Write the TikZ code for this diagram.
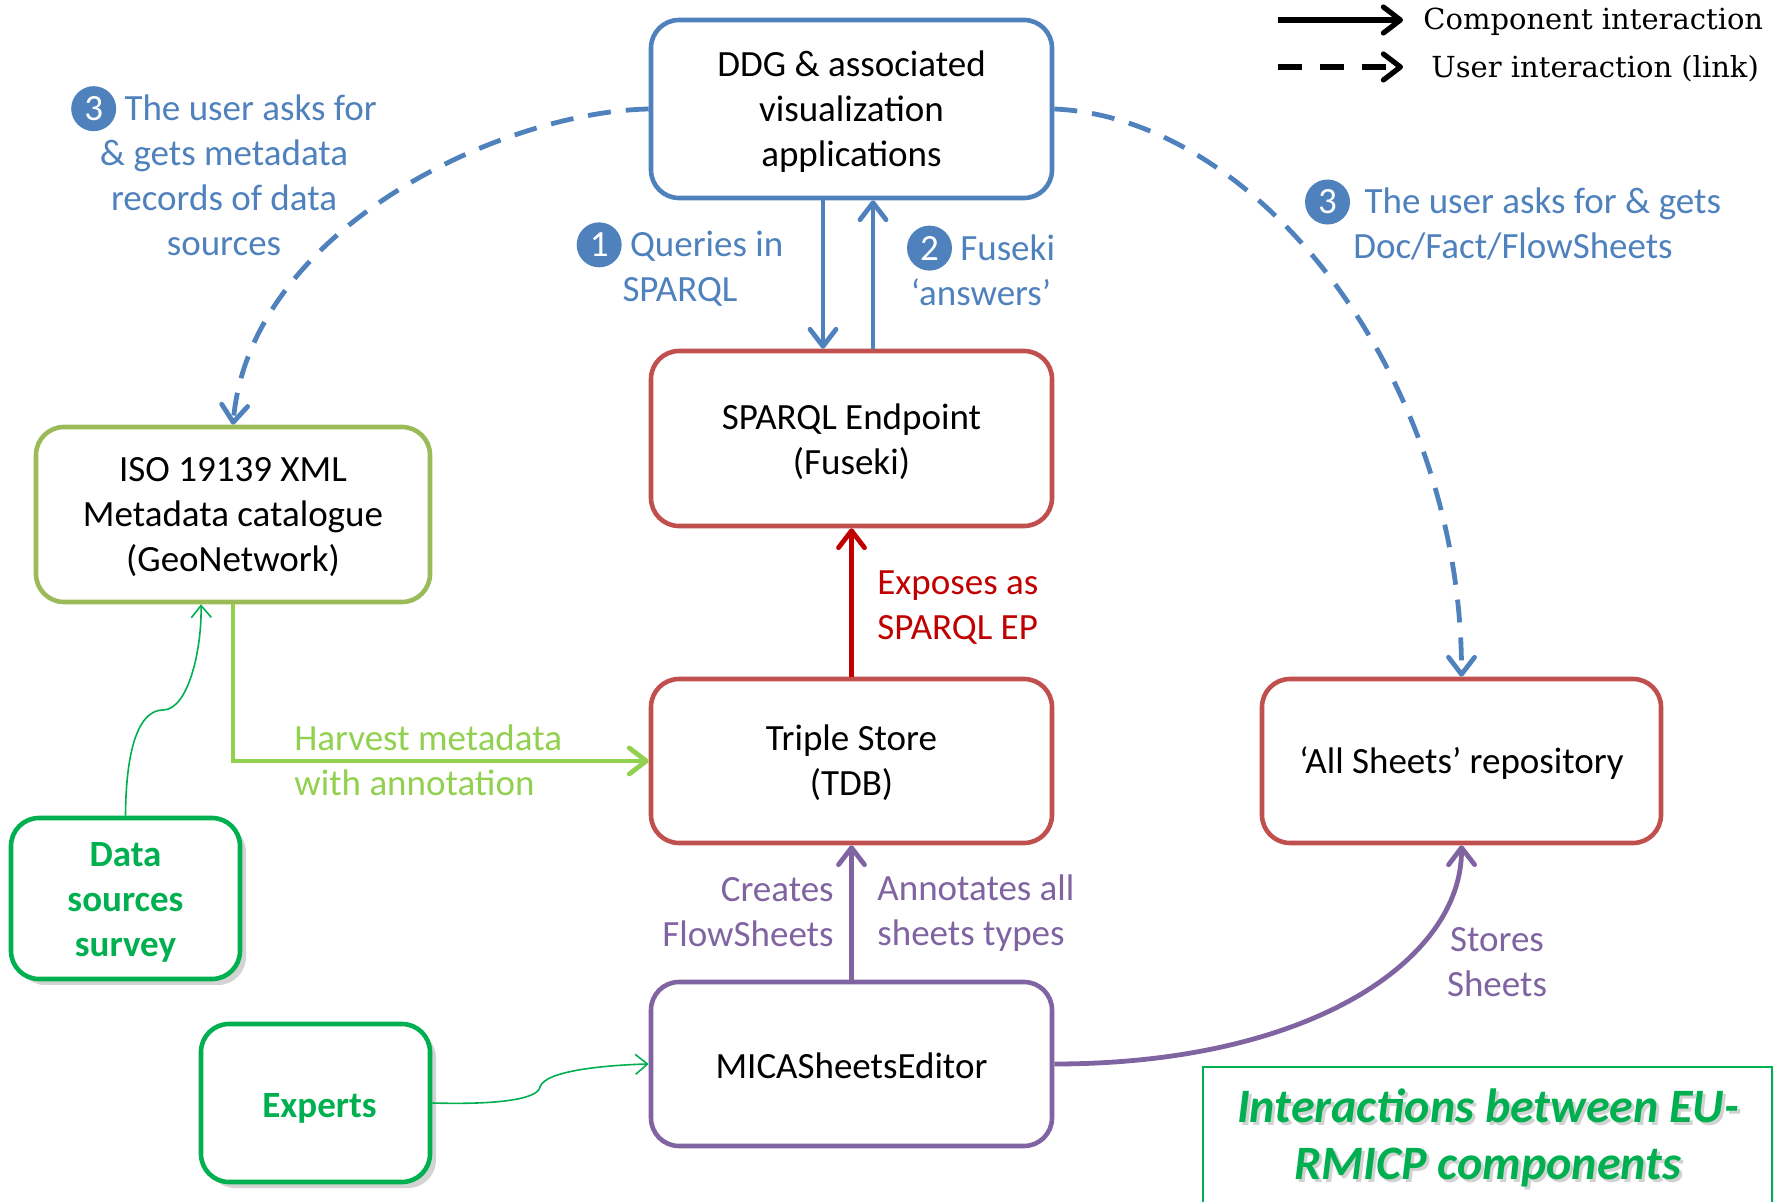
\documentclass[tikz,border=0pt]{standalone}
\usepackage{fontspec}
\setmainfont{Carlito}
\newfontfamily\legfont{DejaVu Serif}
\usetikzlibrary{arrows.meta,shadows}
\definecolor{oblue}{HTML}{4F81BD}
\definecolor{ored}{HTML}{C0504D}
\definecolor{ogreen}{HTML}{9BBB59}
\definecolor{opurple}{HTML}{8064A2}
\definecolor{lgreen}{HTML}{92D050}
\definecolor{dred}{HTML}{C00000}
\definecolor{bgreen}{HTML}{00B050}
\newcommand\numc[1]{\tikz[baseline=(nc.base)]\node[circle,fill=oblue,text=white,inner sep=0pt,minimum size=22.5pt](nc){#1};}
\newcommand\boxtxt[2][1.7pt]{\raisebox{-#1}[\height][\depth]{\begin{tabular}{@{}c@{}}#2\end{tabular}}}
\tikzset{
  txt/.style={font=\fontsize{18.5}{22.5}\selectfont},
  box/.style={draw, line width=2.3pt, rounded corners=14pt, fill=white, align=center, txt, inner sep=0pt},
  gbox/.style={box, draw=bgreen, text=bgreen, font=\fontsize{18.5}{22.5}\selectfont\bfseries,
     drop shadow={opacity=0.35, shadow xshift=3pt, shadow yshift=-3pt}},
  lab/.style={txt, inner sep=0pt},
  barb/.style={-{Straight Barb[length=8.5pt,width=13pt,line join=round,line cap=round]}},
  thinbarb/.style={-{Straight Barb[length=6pt,width=10pt]}},
  conn/.style={line width=2.4pt, barb},
  dconn/.style={conn, dash pattern=on 11.5pt off 7.5pt},
}
\begin{document}
\begin{tikzpicture}[x=0.5pt,y=-0.5pt]
\useasboundingbox (0,0) rectangle (1774,1202);
% boxes
\node[box, draw=oblue, minimum width=200.5pt, minimum height=89pt] (ddg) at (851.5,109) {\boxtxt{DDG \& associated\\visualization\\applications}};
\node[box, draw=ored, minimum width=200.5pt, minimum height=87.5pt] (sparql) at (851.5,438.5) {\boxtxt[2.2pt]{SPARQL Endpoint\\(Fuseki)}};
\node[box, draw=ored, minimum width=200.5pt, minimum height=82pt] (triple) at (851.5,761) {\boxtxt{Triple Store\\(TDB)}};
\node[box, draw=opurple, minimum width=200.5pt, minimum height=82pt] (mica) at (851.5,1064) {\boxtxt[2.8pt]{MICASheetsEditor}};
\node[box, draw=ogreen, minimum width=197pt, minimum height=87.5pt] (iso) at (233,514.5) {\boxtxt{ISO 19139 XML\\Metadata catalogue\\(GeoNetwork)}};
\node[box, draw=ored, minimum width=199.5pt, minimum height=82pt] (all) at (1461.5,761) {\boxtxt{‘All Sheets’ repository}};
\node[gbox, minimum width=114.5pt, minimum height=80.5pt] (survey) at (125.5,898.5) {\boxtxt[1.9pt]{Data\\sources\\survey}};
\node[gbox, minimum width=114.5pt, minimum height=79pt] (experts) at (315.5,1103) {\boxtxt[2.5pt]{\hspace*{4pt}Experts}};
% title
\draw[bgreen, line width=0.8pt, fill=white, drop shadow={opacity=0.2, shadow xshift=2pt, shadow yshift=-2pt}] (1203,1067) rectangle (1772,1215);
\node[align=center, text=black!50, opacity=0.35, font=\fontsize{24}{28.5}\selectfont\bfseries\itshape, inner sep=0pt] (titleshadow) at (1491,1141) {Interactions between EU-\\RMICP components};
\node[align=center, text=bgreen, font=\fontsize{24}{28.5}\selectfont\bfseries\itshape, inner sep=0pt] (title) at (1488,1138) {Interactions between EU-\\RMICP components};
% connectors
\draw[conn, oblue] ([xshift=-14.25pt]ddg.south) -- ([xshift=-14.25pt]sparql.north);
\draw[conn, oblue] ([xshift=10.75pt]sparql.north) -- ([xshift=10.75pt]ddg.south);
\draw[conn, dred] (triple.north) -- (sparql.south);
\draw[conn, opurple] (mica.north) -- (triple.south);
\draw[conn, lgreen] (iso.south) |- (triple.west);
\draw[dconn, oblue] (ddg.west) .. controls (500,112) and (250,230) .. (iso.north);
\draw[dconn, oblue] (ddg.east) .. controls (1260,118) and (1462,380) .. (all.north);
\draw[conn, opurple] (mica.east) .. controls (1310,1064) and (1462,960) .. (all.south);
\draw[thinbarb, bgreen, line width=0.8pt] (survey.north) .. controls (126,745) and (140,710) .. (163,710) .. controls (188,710) and (202,650) .. ([xshift=-16pt]iso.south);
\draw[thinbarb, bgreen, line width=0.8pt] (experts.east) .. controls (505,1105) and (538,1098) .. (540,1087) .. controls (545,1070) and (610,1065) .. (mica.west);
% labels
\node[lab, align=center, text=oblue] (lab3l) at (224,171) {\numc{3} The user asks for\\\& gets metadata\\records of data\\sources};
\node[lab, align=center, text=oblue] (lab1) at (680,264.5) {\numc{1} Queries in\\SPARQL};
\node[lab, align=center, text=oblue] (lab2) at (981,265.5) {\numc{2} Fuseki\\‘answers’};
\node[lab, align=center, text=oblue] (lab3r) at (1513,220) {\numc{3} \,The user asks for \& gets\\Doc/Fact/FlowSheets};
\node[lab, align=left, text=dred, anchor=west] (labexp) at (877,608) {Exposes as\\SPARQL EP};
\node[lab, align=left, text=lgreen, anchor=west] (labharv) at (294,760) {Harvest metadata\\with annotation};
\node[lab, align=right, text=opurple, anchor=east] (labcre) at (834,912) {Creates\\FlowSheets};
\node[lab, align=left, text=opurple, anchor=west] (labann) at (877,913) {Annotates all\\sheets types};
\node[lab, align=center, text=opurple] (labsto) at (1497,962) {Stores\\Sheets};
% legend
\coordinate (l1s) at (1278,20);
\coordinate (l1e) at (1403,20);
\coordinate (l2s) at (1278,67);
\coordinate (l2e) at (1403,67);
\draw[conn, black, line width=2.6pt] (l1s) -- (l1e);
\draw[conn, black, line width=2.6pt, dash pattern=on 12pt off 9pt] (l2s) -- (l2e);
\node[anchor=west, inner sep=0pt, font=\legfont\fontsize{14.5}{17}\selectfont] (leg1) at (1423,22) {Component interaction};
\node[anchor=west, inner sep=0pt, font=\legfont\fontsize{14.5}{17}\selectfont] (leg2) at (1431,69) {User interaction (link)};
\end{tikzpicture}
\end{document}
